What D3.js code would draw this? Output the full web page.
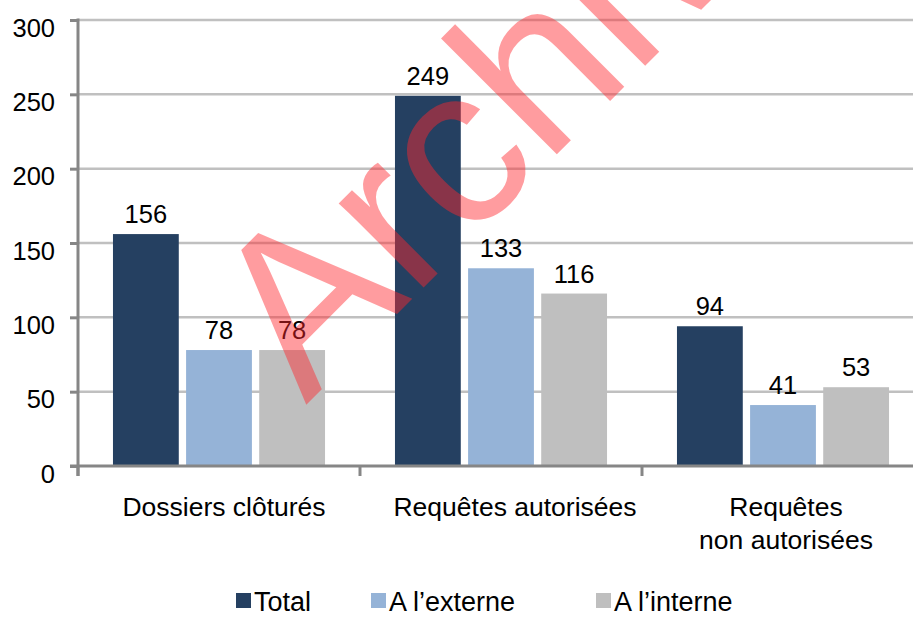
<!DOCTYPE html>
<html><head><meta charset="utf-8">
<script src="https://cdn.jsdelivr.net/npm/d3@7"></script>
<style>body{margin:0;background:#fff;} svg{display:block;font-family:"Liberation Sans",Arial,sans-serif;}</style>
</head><body>
<script>
const categories = [["Dossiers clôturés"], ["Requêtes autorisées"], ["Requêtes", "non autorisées"]];
const seriesNames = ["Total", "A l\u2019externe", "A l\u2019interne"];
const total = [156, 249, 94];
const externe = [78, 133, 41];
const interne = [78, 116, 53];
const yTicks = [0, 50, 100, 150, 200, 250, 300];
const colors = ["#254061", "#95b3d7", "#bfbfbf"];
const watermark = "Archives";

const W = 913, H = 617;
const labelShift = [5, 14, 3];
const svg = d3.select("body").append("svg").attr("width", W).attr("height", H);
const values = [total, externe, interne];
const catIdx = categories.map((d, i) => i);

const y = d3.scaleLinear().domain([0, 300]).range([466, 20]);
const x0 = d3.scaleBand().domain(catIdx).range([78, 924]);
const bw = x0.bandwidth();
const x1 = d3.scaleBand().domain(d3.range(3)).range([bw * 0.124, bw * 0.876]).paddingInner(0.1);

// gridlines
svg.append("g").selectAll("line").data(yTicks.filter(t => t > 0)).join("line")
  .attr("x1", 78).attr("x2", W).attr("y1", d => y(d)).attr("y2", d => y(d))
  .attr("stroke", "#c0c0c0").attr("stroke-width", 2.5);

// bars
const g = svg.append("g");
values.forEach((vals, s) => {
  g.selectAll(".b" + s).data(vals).join("rect")
    .attr("x", (d, i) => x0(i) + x1(s)).attr("width", x1.bandwidth())
    .attr("y", d => y(d)).attr("height", d => y(0) - y(d))
    .attr("fill", colors[s]);
  g.selectAll(".l" + s).data(vals).join("text")
    .attr("x", (d, i) => x0(i) + x1(s) + x1.bandwidth() / 2)
    .attr("y", d => y(d) - 11)
    .attr("text-anchor", "middle").attr("font-size", 25.5).attr("fill", "#000")
    .text(d => d);
});

// y axis
const yAxis = d3.axisLeft(y).tickValues(yTicks).tickSize(8).tickPadding(15);
const ya = svg.append("g").attr("transform", "translate(78,0)").call(yAxis);
ya.select(".domain").remove();
ya.selectAll(".tick line").attr("stroke", "#868686").attr("stroke-width", 3);
ya.selectAll(".tick text").attr("font-size", 25.5).attr("fill", "#000").attr("font-family", "Liberation Sans, Arial, sans-serif").attr("dy", "0.32em").attr("y", 8);
svg.append("line").attr("x1", 78).attr("x2", 78).attr("y1", 18.5).attr("y2", 476)
  .attr("stroke", "#868686").attr("stroke-width", 3);

// x axis
svg.append("line").attr("x1", 70).attr("x2", W).attr("y1", 466).attr("y2", 466)
  .attr("stroke", "#868686").attr("stroke-width", 3);
svg.append("g").selectAll("line").data(d3.range(4)).join("line")
  .attr("x1", i => 78 + i * bw).attr("x2", i => 78 + i * bw).attr("y1", 466).attr("y2", 476)
  .attr("stroke", "#868686").attr("stroke-width", 3);
svg.append("g").selectAll("text").data(categories).join("text")
  .attr("x", (d, i) => x0(i) + bw / 2 + labelShift[i]).attr("y", 516)
  .attr("text-anchor", "middle").attr("font-size", 26.5).attr("fill", "#000")
  .selectAll("tspan").data(d => d).join("tspan")
  .attr("x", function() { return d3.select(this.parentNode).attr("x"); })
  .attr("dy", (d, j) => j === 0 ? 0 : 33).text(d => d);

// legend
const legX = [236, 371, 596];
const lg = svg.append("g");
seriesNames.forEach((n, s) => {
  lg.append("rect").attr("x", legX[s]).attr("y", 593).attr("width", 15).attr("height", 15).attr("fill", colors[s]);
  lg.append("text").attr("x", legX[s] + 18).attr("y", 611).attr("font-size", 27).attr("fill", "#000").text(n);
});

// watermark
svg.append("text").attr("transform", "translate(306,405) rotate(-45)")
  .attr("font-size", 226).attr("fill", "rgb(255,40,45)").attr("fill-opacity", 0.46)
  .text(watermark);
</script>
</body></html>
